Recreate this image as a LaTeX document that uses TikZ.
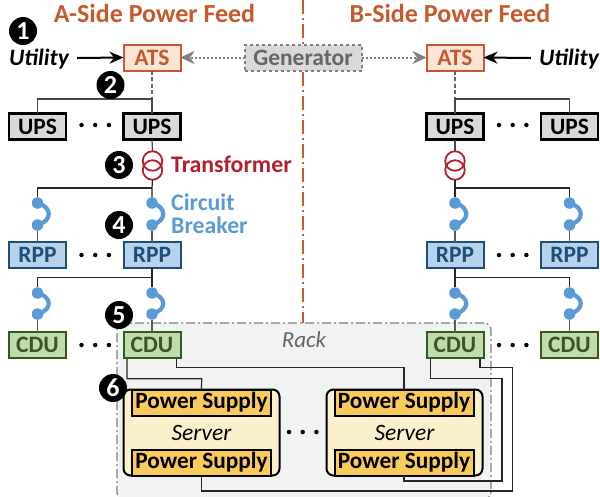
\documentclass[tikz,border=0pt]{standalone}
\usepackage{fontspec}
\setmainfont{Carlito}
\usetikzlibrary{arrows.meta,calc}
\definecolor{orangeC}{HTML}{C55A2B}
\definecolor{atsF}{HTML}{FBE5D6}
\definecolor{grayF}{HTML}{D9D9D9}
\definecolor{grayT}{HTML}{666666}
\definecolor{grayL}{HTML}{7F7F7F}
\definecolor{rppF}{HTML}{B7D2EA}
\definecolor{rppL}{HTML}{1F4E79}
\definecolor{cduF}{HTML}{C0DCAC}
\definecolor{cduL}{HTML}{385723}
\definecolor{redC}{HTML}{B2202F}
\definecolor{blueC}{HTML}{5B9BD5}
\definecolor{rackF}{HTML}{F1F3F3}
\definecolor{srvF}{HTML}{FBF0CC}
\definecolor{psuF}{HTML}{F9CB5C}
\definecolor{wireC}{HTML}{262626}
\newcommand{\psutext}{\raisebox{-1.2pt}{Power Supply}}
\tikzset{
  unit/.style={draw,line width=2pt,minimum width=57pt,minimum height=26pt,inner sep=0pt,outer sep=0pt,font=\fontsize{23.5}{23.5}\selectfont\bfseries},
  ats/.style={unit,draw=orangeC,fill=atsF,text=orangeC},
  gen/.style={unit,draw=grayL,fill=grayF,text=grayT,dashed,minimum width=117pt},
  ups/.style={unit,draw=black,fill=grayF,text=black,line width=2.2pt},
  rpp/.style={unit,draw=rppL,fill=rppF,text=rppL},
  cdu/.style={unit,draw=cduL,fill=cduF,text=cduL},
  srv/.style={draw=black,line width=2pt,fill=srvF,rounded corners=7pt,minimum width=156pt,minimum height=86pt,inner sep=0pt,outer sep=0pt,font=\fontsize{23.5}{23.5}\selectfont\itshape},
  psu/.style={draw=black,line width=2pt,fill=psuF,minimum width=139pt,minimum height=26pt,inner sep=0pt,outer sep=0pt,font=\fontsize{23.3}{23.3}\selectfont\bfseries},
  rackbox/.style={draw=grayL,fill=rackF,line width=1.2pt,dash pattern=on 9pt off 3pt on 2pt off 3pt,rounded corners=7pt,minimum width=374pt,minimum height=176pt,inner sep=0pt,outer sep=0pt},
  wire/.style={draw=wireC,line width=1.2pt},
  feed/.style={draw=grayT,line width=1.2pt,dash pattern=on 4pt off 2.5pt},
  xfmr/.style={circle,draw=redC,line width=1.8pt,minimum size=19.5pt,inner sep=0pt,outer sep=0pt},
  bdot/.style={circle,fill=blueC,minimum size=11.5pt,inner sep=0pt,outer sep=0pt},
  brk/.style={draw=blueC,line width=4.2pt},
  num/.style={circle,fill=black,text=white,minimum size=28pt,inner sep=0pt,font=\fontsize{26}{26}\selectfont\bfseries},
  hdr/.style={text=orangeC,inner sep=0pt,font=\fontsize{26}{26}\selectfont\bfseries},
  util/.style={inner sep=0pt,font=\fontsize{23.5}{23.5}\selectfont\bfseries\itshape},
  lbl/.style={inner sep=0pt,anchor=west,font=\fontsize{23.8}{23.8}\selectfont\bfseries},
  dotsep/.style={circle,fill=black,minimum size=4.5pt,inner sep=0pt},
  garrow/.style={draw=grayL,line width=2pt,dash pattern=on 2pt off 2pt,-{Stealth[length=14pt,width=13pt,inset=4.5pt,fill=grayL]}},
  karrow/.style={draw=black,line width=2pt,-{Stealth[length=14pt,width=12pt,inset=4.5pt]}}
}
\newcommand{\threedots}[3]{%
  \node[dotsep] (#1a) at (#2,#3) {};
  \node[dotsep] (#1b) at (#2+13.7,#3) {};
  \node[dotsep] (#1c) at (#2+27.4,#3) {};}
% breaker: name, x, top y, bottom y
\newcommand{\breaker}[4]{%
  \node[bdot] (#1t) at (#2,#3) {};
  \node[bdot] (#1b) at (#2,#4) {};
  \draw[brk] (#1t.center) .. controls +(15,4) and +(15,-4) .. (#1b.center);}
\begin{document}
\begin{tikzpicture}[x=1pt,y=-1pt]
\useasboundingbox (0,0) rectangle (600,496);
% divider and rack
\coordinate (divtop) at (303,0);
\node[rackbox] (rack) at (304,411) {};
\draw[draw=orangeC,line width=1.4pt,dash pattern=on 14pt off 4pt on 2pt off 4pt] (divtop) -- (rack.north -| divtop);
\node[text=grayT,inner sep=0pt,font=\fontsize{23}{23}\selectfont\itshape] (racklbl) at (304,340) {Rack};
% titles
\node[hdr] (ta) at (154.5,13.5) {A-Side Power Feed};
\node[hdr] (tb) at (450,13.5) {B-Side Power Feed};
% top row
\node[util] (ua) at (39,59) {Utility};
\node[util] (ub) at (569,59) {Utility};
\node[ats] (atsa) at (152,57.5) {ATS};
\node[ats] (atsb) at (455,57.5) {ATS};
\node[gen] (gen) at (303,57.5) {Generator};
\draw[karrow] (ua.east)+(8,-1) -- (atsa.west);
\draw[karrow] (ub.west)+(-8,-1) -- (atsb.east);
\draw[garrow] (gen.west) -- (atsa.east);
\draw[garrow] (gen.east) -- (atsb.west);
% UPS
\node[ups] (ups1) at (37.5,126.5) {UPS};
\node[ups] (ups2) at (152,126.5) {UPS};
\node[ups] (ups3) at (455,126.5) {UPS};
\node[ups] (ups4) at (569.5,126.5) {UPS};
\threedots{du1}{81.5}{125}
\threedots{du2}{499}{125}
\coordinate (ja) at (152,99);
\coordinate (jb) at (455,99);
\draw[feed] (atsa.south) -- (ja);
\draw[feed] (atsb.south) -- (jb);
\draw[wire,draw=wireC!85] (ups1.north) |- (ja) -- (ups2.north);
\draw[wire,draw=wireC!85] (ups4.north) |- (jb) -- (ups3.north);
% transformers
\node[xfmr] (xa1) at (152.5,161) {};
\node[xfmr] (xa2) at (152.5,170) {};
\node[xfmr] (xb1) at (455,161) {};
\node[xfmr] (xb2) at (455,170) {};
\draw[wire,draw=wireC!85] (ups2.south) -- (xa1.north);
\draw[wire,draw=wireC!85] (ups3.south) -- (xb1.north);
\node[lbl,text=redC] (tl) at (171,164) {Transformer};
\node[lbl,text=blueC] (cl1) at (171,202) {Circuit};
\node[lbl,text=blueC] (cl2) at (171,225) {Breaker};
% RPP row
\node[rpp] (rpp1) at (37.5,255) {RPP};
\node[rpp] (rpp2) at (152,255) {RPP};
\node[rpp] (rpp3) at (455,255) {RPP};
\node[rpp] (rpp4) at (569.5,255) {RPP};
\threedots{dr1}{81.5}{255}
\threedots{dr2}{499}{255}
\breaker{b1}{37.5}{203}{225}
\breaker{b2}{152}{203}{225}
\breaker{b3}{455}{203}{225}
\breaker{b4}{569.5}{203}{225}
\coordinate (ka) at (152,188);
\coordinate (kb) at (455,188);
\draw[wire] (xa2.south) -- (ka) -- (b2t);
\draw[wire] (xb2.south) -- (kb) -- (b3t);
\draw[wire] (b1t) |- (ka);
\draw[wire] (b4t) |- (kb);
\draw[wire,draw=wireC!75] (b1b) -- (rpp1);
\draw[wire,draw=wireC!75] (b2b) -- (rpp2);
\draw[wire,draw=wireC!75] (b3b) -- (rpp3);
\draw[wire,draw=wireC!75] (b4b) -- (rpp4);
% CDU row
\node[cdu] (cdu1) at (37.5,345) {CDU};
\node[cdu] (cdu2) at (152,345) {CDU};
\node[cdu] (cdu3) at (455,345) {CDU};
\node[cdu] (cdu4) at (569.5,345) {CDU};
\threedots{dc1}{81.5}{345}
\threedots{dc2}{499}{345}
\breaker{c1}{37.5}{293}{314}
\breaker{c2}{152}{293}{314}
\breaker{c3}{455}{293}{314}
\breaker{c4}{569.5}{293}{314}
\coordinate (ma) at (152,277.5);
\coordinate (mb) at (455,277.5);
\draw[wire] (rpp2.south) -- (ma) -- (c2t);
\draw[wire] (rpp3.south) -- (mb) -- (c3t);
\draw[wire] (c1t) |- (ma);
\draw[wire] (c4t) |- (mb);
\draw[wire,draw=wireC!75] (c1b) -- (cdu1);
\draw[wire,draw=wireC!75] (c2b) -- (cdu2);
\draw[wire,draw=wireC!75] (c3b) -- (cdu3);
\draw[wire,draw=wireC!75] (c4b) -- (cdu4);
% servers
\node[srv] (srva) at (201.5,432.5) {Server};
\node[srv] (srvb) at (404.5,432.5) {Server};
\node[psu] (pa1) at (201.5,402.5) {\psutext};
\node[psu] (pa2) at (201.5,462.5) {\psutext};
\node[psu] (pb1) at (404,402.5) {\psutext};
\node[psu] (pb2) at (404,462.5) {\psutext};
\threedots{ds}{289}{432}
% rack wiring
\coordinate (a1) at (127,359);
\coordinate (a2) at (176.7,359);
\coordinate (b1) at (430.7,359);
\coordinate (b2) at (480,359);
\draw[wire] (a1) |- (201.7,378.7) -- (pa1.north);
\draw[wire] (a2) |- (404,367.5) -- (pb1.north);
\draw[wire] (pa2.south) |- (512.7,491) |- (480,367.5) -- (b2);
\draw[wire] (pb2.south) |- (502,481) |- (430.7,378.7) -- (b1);
% numbers
\node[num] (n1) at (23,31) {1};
\node[num] (n2) at (110.5,85) {2};
\node[num] (n3) at (119,165) {3};
\node[num] (n4) at (119,225) {4};
\node[num] (n5) at (119,315) {5};
\node[num] (n6) at (113,388) {6};
\end{tikzpicture}
\end{document}
